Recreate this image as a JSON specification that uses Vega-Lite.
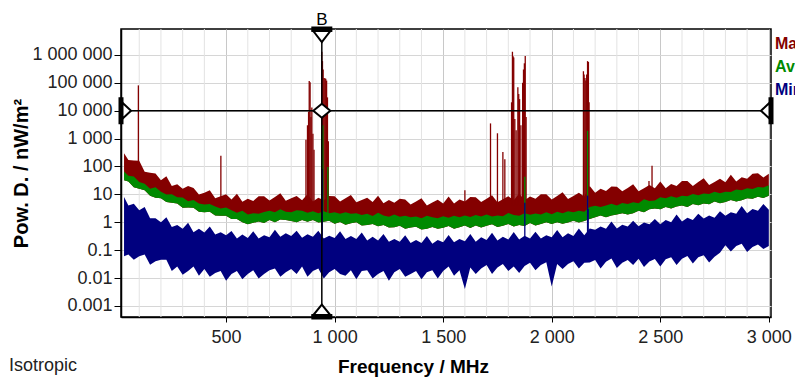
{
"$schema": "https://vega.github.io/schema/vega-lite/v6.json",
"width": 650, "height": 288,
"autosize": {"type": "none"},
"padding": {"left": 121, "top": 29, "right": 24, "bottom": 61},
"background": "white",
"title": {"text": "Isotropic", "orient": "bottom", "anchor": "start", "frame": "bounds", "offset": -19, "fontSize": 18, "fontWeight": "normal", "font": "Liberation Sans", "color": "#222", "dx": -3},
"config": {
  "locale": {"number": {"decimal": ".", "thousands": " ", "grouping": [3], "currency": ["", ""]}},
  "view": {"stroke": "black", "strokeWidth": 1.5},
  "font": "Liberation Sans",
  "axis": {"labelFont": "Liberation Sans", "labelFontSize": 18, "labelColor": "#222", "titleFont": "Liberation Sans", "titleFontSize": 19, "titleFontWeight": "bold", "titleColor": "black", "domainColor": "black", "domainWidth": 1.5, "tickColor": "black", "gridColor": "#d9d9d9", "gridWidth": 1, "labelFlush": false, "labelOverlap": false},
  "axisX": {"tickSize": 5, "labelPadding": 6, "titlePadding": 11, "gridColor": "#c8c8c8"},
  "axisY": {"tickSize": 7, "labelPadding": 2, "titlePadding": 0, "titleFontSize": 20, "gridColor": "#d6d6d6"}
},
"datasets": {
"minorgrid": [
{"g":100},{"g":200},{"g":300},{"g":400},{"g":600},{"g":700},{"g":800},{"g":900},
{"g":1100},{"g":1200},{"g":1300},{"g":1400},{"g":1600},{"g":1700},{"g":1800},{"g":1900},
{"g":2100},{"g":2200},{"g":2300},{"g":2400},{"g":2600},{"g":2700},{"g":2800},{"g":2900}
],
"bands": [
{"f":30,"r":300,"gh":66,"gl":32,"bh":8,"bl":0.06},
{"f":50,"r":170,"gh":46,"gl":29,"bh":4,"bl":0.07},
{"f":75,"r":165,"gh":44,"gl":18,"bh":4.6,"bl":0.045},
{"f":100,"r":160,"gh":28,"gl":16,"bh":2.7,"bl":0.06},
{"f":125,"r":64,"gh":24,"gl":14,"bh":3.5,"bl":0.07},
{"f":150,"r":60,"gh":16,"gl":9,"bh":1.4,"bl":0.03},
{"f":175,"r":56,"gh":18,"gl":7.6,"bh":1.4,"bl":0.04},
{"f":200,"r":32,"gh":12.5,"gl":7.3,"bh":1.0,"bl":0.045},
{"f":225,"r":45,"gh":9.8,"gl":5.3,"bh":1.5,"bl":0.045},
{"f":250,"r":20,"gh":10,"gl":5,"bh":0.68,"bl":0.018},
{"f":275,"r":23,"gh":7.8,"gl":4.7,"bh":0.8,"bl":0.026},
{"f":300,"r":16,"gh":7.7,"gl":3.3,"bh":0.58,"bl":0.013},
{"f":325,"r":20,"gh":5.7,"gl":3.4,"bh":0.96,"bl":0.018},
{"f":350,"r":17,"gh":6.3,"gl":3.3,"bh":0.44,"bl":0.026},
{"f":375,"r":9.8,"gh":4.7,"gl":2.4,"bh":0.58,"bl":0.012},
{"f":400,"r":11.5,"gh":4.3,"gl":2.3,"bh":0.43,"bl":0.021},
{"f":425,"r":14,"gh":4.5,"gl":2.4,"bh":0.7,"bl":0.011},
{"f":450,"r":7.2,"gh":3.7,"gl":1.75,"bh":0.36,"bl":0.015},
{"f":475,"r":8.5,"gh":3.1,"gl":1.7,"bh":0.44,"bl":0.018},
{"f":500,"r":10,"gh":3.4,"gl":1.7,"bh":0.34,"bl":0.008},
{"f":525,"r":6.6,"gh":2.7,"gl":1.3,"bh":0.49,"bl":0.014},
{"f":550,"r":10.5,"gh":2.2,"gl":1.3,"bh":0.26,"bl":0.018},
{"f":575,"r":5.4,"gh":2.6,"gl":1.0,"bh":0.36,"bl":0.009},
{"f":600,"r":6.9,"gh":1.9,"gl":0.84,"bh":0.27,"bl":0.014},
{"f":625,"r":5.8,"gh":2.1,"gl":0.95,"bh":0.48,"bl":0.019},
{"f":650,"r":8.5,"gh":2.0,"gl":1.07,"bh":0.26,"bl":0.0096},
{"f":675,"r":8.6,"gh":2.35,"gl":0.93,"bh":0.34,"bl":0.014},
{"f":700,"r":6,"gh":2.6,"gl":1.2,"bh":0.29,"bl":0.019},
{"f":725,"r":8,"gh":2.3,"gl":1.0,"bh":0.54,"bl":0.022},
{"f":750,"r":10.9,"gh":2.9,"gl":1.26,"bh":0.3,"bl":0.011},
{"f":775,"r":5.9,"gh":2.4,"gl":1.2,"bh":0.4,"bl":0.016},
{"f":800,"r":7.2,"gh":2.3,"gl":1.1,"bh":0.32,"bl":0.021},
{"f":825,"r":8.8,"gh":2.7,"gl":1.0,"bh":0.5,"bl":0.014},
{"f":850,"r":6.1,"gh":2.6,"gl":1.2,"bh":0.28,"bl":0.026},
{"f":875,"r":10,"gh":2.2,"gl":1.05,"bh":0.37,"bl":0.011},
{"f":900,"r":5.5,"gh":2.5,"gl":1.2,"bh":0.3,"bl":0.018},
{"f":925,"r":7.5,"gh":2.1,"gl":0.97,"bh":0.5,"bl":0.022},
{"f":950,"r":6.2,"gh":2.5,"gl":1.04,"bh":0.26,"bl":0.0096},
{"f":975,"r":8.8,"gh":2.1,"gl":1.13,"bh":0.33,"bl":0.016},
{"f":1000,"r":8.5,"gh":2.3,"gl":0.88,"bh":0.27,"bl":0.021},
{"f":1025,"r":5.5,"gh":2.0,"gl":1.03,"bh":0.48,"bl":0.014},
{"f":1050,"r":7.2,"gh":2.3,"gl":0.82,"bh":0.25,"bl":0.012},
{"f":1075,"r":9.4,"gh":2.0,"gl":0.92,"bh":0.32,"bl":0.019},
{"f":1100,"r":5.2,"gh":2.1,"gl":0.99,"bh":0.25,"bl":0.009},
{"f":1125,"r":6.3,"gh":1.8,"gl":0.77,"bh":0.43,"bl":0.018},
{"f":1150,"r":7.6,"gh":2.0,"gl":0.8,"bh":0.22,"bl":0.019},
{"f":1175,"r":5.3,"gh":1.66,"gl":0.87,"bh":0.3,"bl":0.0096},
{"f":1200,"r":9,"gh":2.2,"gl":0.72,"bh":0.22,"bl":0.014},
{"f":1225,"r":4.8,"gh":1.75,"gl":0.8,"bh":0.38,"bl":0.018},
{"f":1250,"r":6.3,"gh":1.56,"gl":0.65,"bh":0.2,"bl":0.008},
{"f":1275,"r":5,"gh":1.9,"gl":0.66,"bh":0.25,"bl":0.016},
{"f":1300,"r":7,"gh":1.58,"gl":0.75,"bh":0.2,"bl":0.021},
{"f":1325,"r":6.6,"gh":1.7,"gl":0.58,"bh":0.34,"bl":0.011},
{"f":1350,"r":4.3,"gh":1.5,"gl":0.65,"bh":0.18,"bl":0.014},
{"f":1375,"r":5.5,"gh":1.6,"gl":0.69,"bh":0.23,"bl":0.018},
{"f":1400,"r":7.2,"gh":1.4,"gl":0.55,"bh":0.18,"bl":0.009},
{"f":1425,"r":4,"gh":1.7,"gl":0.59,"bh":0.32,"bl":0.016},
{"f":1450,"r":5.1,"gh":1.5,"gl":0.68,"bh":0.17,"bl":0.019},
{"f":1475,"r":6.4,"gh":1.4,"gl":0.58,"bh":0.23,"bl":0.0096},
{"f":1500,"r":4.7,"gh":1.65,"gl":0.64,"bh":0.19,"bl":0.018},
{"f":1525,"r":8.4,"gh":1.45,"gl":0.73,"bh":0.35,"bl":0.026},
{"f":1550,"r":4.7,"gh":1.7,"gl":0.59,"bh":0.19,"bl":0.012},
{"f":1575,"r":6.6,"gh":1.5,"gl":0.66,"bh":0.25,"bl":0.019},
{"f":1600,"r":5.5,"gh":1.75,"gl":0.77,"bh":0.21,"bl":0.004},
{"f":1625,"r":8,"gh":1.55,"gl":0.62,"bh":0.38,"bl":0.024},
{"f":1650,"r":7.8,"gh":1.8,"gl":0.76,"bh":0.2,"bl":0.014},
{"f":1675,"r":5.3,"gh":1.6,"gl":0.65,"bh":0.29,"bl":0.022},
{"f":1700,"r":6.9,"gh":1.9,"gl":0.75,"bh":0.23,"bl":0.029},
{"f":1725,"r":9.3,"gh":1.6,"gl":0.84,"bh":0.42,"bl":0.014},
{"f":1750,"r":5.2,"gh":1.75,"gl":0.68,"bh":0.22,"bl":0.024},
{"f":1775,"r":6.7,"gh":1.65,"gl":0.75,"bh":0.3,"bl":0.032},
{"f":1800,"r":8.5,"gh":2.15,"gl":0.86,"bh":0.24,"bl":0.018},
{"f":1825,"r":6.2,"gh":1.83,"gl":0.71,"bh":0.45,"bl":0.026},
{"f":1850,"r":10.8,"gh":1.7,"gl":0.8,"bh":0.24,"bl":0.015},
{"f":1875,"r":6.1,"gh":2.1,"gl":0.74,"bh":0.33,"bl":0.027},
{"f":1900,"r":8.4,"gh":1.85,"gl":0.94,"bh":0.26,"bl":0.035},
{"f":1925,"r":7,"gh":2.05,"gl":0.77,"bh":0.46,"bl":0.019},
{"f":1950,"r":10.1,"gh":1.9,"gl":0.86,"bh":0.26,"bl":0.029},
{"f":1975,"r":10,"gh":2.3,"gl":0.99,"bh":0.34,"bl":0.037},
{"f":2000,"r":6.6,"gh":1.95,"gl":0.87,"bh":0.29,"bl":0.005},
{"f":2025,"r":8.8,"gh":2.4,"gl":1.0,"bh":0.53,"bl":0.032},
{"f":2050,"r":11.9,"gh":2.1,"gl":0.88,"bh":0.29,"bl":0.021},
{"f":2075,"r":6.8,"gh":2.5,"gl":0.97,"bh":0.4,"bl":0.032},
{"f":2100,"r":8.8,"gh":2.3,"gl":1.13,"bh":0.32,"bl":0.04},
{"f":2125,"r":11.3,"gh":2.6,"gl":0.97,"bh":0.6,"bl":0.022},
{"f":2150,"r":8.3,"gh":2.4,"gl":1.1,"bh":0.34,"bl":0.035},
{"f":2175,"r":20,"gh":3.5,"gl":1.3,"bh":0.6,"bl":0.036},
{"f":2200,"r":11.5,"gh":3.9,"gl":1.5,"bh":0.54,"bl":0.044},
{"f":2225,"r":15.9,"gh":3.5,"gl":1.76,"bh":0.71,"bl":0.022},
{"f":2250,"r":13.3,"gh":4.0,"gl":1.5,"bh":0.58,"bl":0.038},
{"f":2275,"r":19.3,"gh":4.6,"gl":1.73,"bh":1.07,"bl":0.05},
{"f":2300,"r":18.9,"gh":4.0,"gl":1.9,"bh":0.6,"bl":0.023},
{"f":2325,"r":12.8,"gh":4.9,"gl":2.1,"bh":0.81,"bl":0.035},
{"f":2350,"r":16.8,"gh":4.5,"gl":1.9,"bh":0.7,"bl":0.044},
{"f":2375,"r":22.8,"gh":5.2,"gl":2.1,"bh":1.13,"bl":0.029},
{"f":2400,"r":12.8,"gh":4.8,"gl":2.6,"bh":0.72,"bl":0.049},
{"f":2425,"r":16.7,"gh":6.7,"gl":2.3,"bh":0.97,"bl":0.025},
{"f":2450,"r":21.6,"gh":5.8,"gl":2.9,"bh":0.85,"bl":0.039},
{"f":2475,"r":16.7,"gh":6.0,"gl":3.1,"bh":1.3,"bl":0.048},
{"f":2500,"r":29,"gh":7.8,"gl":2.9,"bh":0.85,"bl":0.026},
{"f":2525,"r":16.7,"gh":7.2,"gl":3.5,"bh":1.2,"bl":0.047},
{"f":2550,"r":23.6,"gh":8.6,"gl":3.1,"bh":1.0,"bl":0.056},
{"f":2575,"r":20,"gh":7.5,"gl":3.7,"bh":1.9,"bl":0.029},
{"f":2600,"r":30,"gh":9.0,"gl":4.0,"bh":1.06,"bl":0.049},
{"f":2625,"r":30,"gh":8.5,"gl":3.5,"bh":1.45,"bl":0.062},
{"f":2650,"r":20,"gh":10.3,"gl":4.5,"bh":1.2,"bl":0.033},
{"f":2675,"r":27.5,"gh":9.3,"gl":4.1,"bh":2.0,"bl":0.056},
{"f":2700,"r":38,"gh":10.8,"gl":4.7,"bh":1.35,"bl":0.065},
{"f":2725,"r":21.6,"gh":10.2,"gl":4.4,"bh":1.75,"bl":0.036},
{"f":2750,"r":28,"gh":12.3,"gl":5.5,"bh":1.45,"bl":0.058},
{"f":2775,"r":36,"gh":11,"gl":4.8,"bh":2.5,"bl":0.08},
{"f":2800,"r":27,"gh":12.5,"gl":5.3,"bh":1.7,"bl":0.15},
{"f":2825,"r":50,"gh":12.2,"gl":6.3,"bh":2.3,"bl":0.09},
{"f":2850,"r":29,"gh":15,"gl":5.6,"bh":2.0,"bl":0.14},
{"f":2875,"r":41,"gh":14,"gl":6.1,"bh":3.8,"bl":0.17},
{"f":2900,"r":36,"gh":16.5,"gl":7.3,"bh":2.1,"bl":0.085},
{"f":2925,"r":55,"gh":15.5,"gl":6.9,"bh":3.0,"bl":0.13},
{"f":2950,"r":57,"gh":18.5,"gl":8.2,"bh":2.6,"bl":0.16},
{"f":2975,"r":40,"gh":17.5,"gl":7.4,"bh":4.5,"bl":0.11},
{"f":3000,"r":55,"gh":21,"gl":9,"bh":2.8,"bl":0.14}
],
"spikes": [
{"s":"Max","f":96,"lo":50,"hi":81000},
{"s":"Max","f":476,"lo":5,"hi":240},
{"s":"Max","f":868,"lo":4,"hi":900},
{"s":"Max","f":875,"lo":4,"hi":3000},
{"s":"Max","f":880,"lo":4,"hi":9000},
{"s":"Max","f":883,"lo":4,"hi":115000},
{"s":"Max","f":887,"lo":4,"hi":105000},
{"s":"Max","f":891,"lo":4,"hi":6000},
{"s":"Max","f":895,"lo":4,"hi":13000},
{"s":"Max","f":900,"lo":4,"hi":1500},
{"s":"Max","f":905,"lo":4,"hi":400},
{"s":"Max","f":941,"lo":4,"hi":1300000},
{"s":"Max","f":944,"lo":4,"hi":600000},
{"s":"Max","f":947,"lo":4,"hi":300000},
{"s":"Max","f":951,"lo":4,"hi":150000},
{"s":"Max","f":955,"lo":4,"hi":145000},
{"s":"Max","f":959,"lo":4,"hi":140000},
{"s":"Max","f":963,"lo":4,"hi":120000},
{"s":"Max","f":967,"lo":4,"hi":30000},
{"s":"Max","f":971,"lo":4,"hi":800},
{"s":"Max","f":1600,"lo":4,"hi":14},
{"s":"Max","f":1718,"lo":4,"hi":3500},
{"s":"Max","f":1750,"lo":4,"hi":1550},
{"s":"Max","f":1775,"lo":4,"hi":330},
{"s":"Max","f":1784,"lo":4,"hi":180},
{"s":"Max","f":1815,"lo":4,"hi":20000},
{"s":"Max","f":1819,"lo":4,"hi":1300000},
{"s":"Max","f":1822,"lo":4,"hi":900000},
{"s":"Max","f":1825,"lo":4,"hi":800000},
{"s":"Max","f":1830,"lo":4,"hi":5000},
{"s":"Max","f":1836,"lo":4,"hi":2000},
{"s":"Max","f":1844,"lo":4,"hi":69000},
{"s":"Max","f":1848,"lo":4,"hi":40000},
{"s":"Max","f":1852,"lo":4,"hi":26000},
{"s":"Max","f":1858,"lo":4,"hi":3000},
{"s":"Max","f":1866,"lo":4,"hi":100000},
{"s":"Max","f":1870,"lo":4,"hi":300000},
{"s":"Max","f":1874,"lo":4,"hi":500000},
{"s":"Max","f":1878,"lo":4,"hi":910000},
{"s":"Max","f":1882,"lo":4,"hi":6000},
{"s":"Max","f":2146,"lo":4,"hi":260000},
{"s":"Max","f":2149,"lo":4,"hi":200000},
{"s":"Max","f":2153,"lo":4,"hi":150000},
{"s":"Max","f":2157,"lo":4,"hi":120000},
{"s":"Max","f":2161,"lo":4,"hi":200000},
{"s":"Max","f":2165,"lo":4,"hi":600000},
{"s":"Max","f":2169,"lo":4,"hi":560000},
{"s":"Max","f":2172,"lo":4,"hi":20000},
{"s":"Max","f":2448,"lo":10,"hi":30},
{"s":"Max","f":2462,"lo":10,"hi":106},
{"s":"Avg","f":941,"lo":2,"hi":1500},
{"s":"Avg","f":946,"lo":2,"hi":3000},
{"s":"Avg","f":969,"lo":2,"hi":95},
{"s":"Avg","f":1876,"lo":1.5,"hi":43},
{"s":"Avg","f":2165,"lo":2.5,"hi":1900},
{"s":"Min","f":943,"lo":0.3,"hi":80},
{"s":"Min","f":1876,"lo":0.3,"hi":5},
{"s":"Min","f":2165,"lo":0.3,"hi":9},
{"s":"Min","f":2168,"lo":0.3,"hi":3}
],
"markers": [
{"k":"topBar","f":941,"v":8500000},
{"k":"topTri","f":941,"v":8500000},
{"k":"botBar","f":941,"v":0.0004},
{"k":"botTri","f":941,"v":0.0004},
{"k":"leftBar","f":16,"v":10000},
{"k":"leftTri","f":16,"v":10000},
{"k":"rightBar","f":3010,"v":10000},
{"k":"rightTri","f":3010,"v":10000},
{"k":"diamond","f":941,"v":10000}
]
},
"layer": [
{
 "data": {"name": "minorgrid"},
 "mark": {"type": "rule", "color": "#e3e3e3", "strokeWidth": 1},
 "encoding": {
  "x": {"field": "g", "type": "quantitative", "scale": {"type": "linear", "domain": [16, 3010], "nice": false, "zero": false}}
 }
},
{
 "data": {"name": "bands"},
 "mark": {"type": "area", "orient": "vertical", "clip": true},
 "encoding": {
  "x": {"field": "f", "type": "quantitative", "scale": {"type": "linear", "domain": [16, 3010], "nice": false, "zero": false},
        "axis": {"values": [500,1000,1500,2000,2500,3000], "labelExpr": "format(datum.value, ',')", "labelOverlap": false, "labelFlush": false,
                 "title": "Frequency / MHz", "titleX": 292}},
  "y": {"field": "gl", "type": "quantitative", "scale": {"type": "log", "domain": [0.0004, 8500000], "nice": false},
        "axis": {"values": [0.001,0.01,0.1,1,10,100,1000,10000,100000,1000000], "format": ",", "labelOverlap": false, "labelFlush": false, "title": "Pow. D. / nW/m²"}},
  "y2": {"field": "r"},
  "color": {"datum": "Max", "type": "nominal", "scale": {"domain": ["Max","Avg","Min"], "range": ["#840000","#008a00","#00007f"]},
            "legend": {"title": null, "orient": "none", "direction": "vertical", "legendX": 638, "legendY": 7, "padding": 0, "symbolSize": 1, "symbolStrokeWidth": 0, "symbolOpacity": 0,
                       "labelOffset": 0, "labelFontSize": 16, "labelFontWeight": "bold", "labelFont": "Liberation Sans", "rowPadding": 7,
                       "encode": {"labels": {"update": {"fill": {"scale": "color", "field": "value"}}}}}}
 }
},
{
 "data": {"name": "spikes"},
 "transform": [{"filter": "datum.s === 'Max'"}],
 "mark": {"type": "rule", "color": "#840000", "strokeWidth": 1.3, "clip": true},
 "encoding": {
  "x": {"field": "f", "type": "quantitative", "scale": {"type": "linear", "domain": [16, 3010], "nice": false, "zero": false}},
  "y": {"field": "lo", "type": "quantitative", "scale": {"type": "log", "domain": [0.0004, 8500000], "nice": false}},
  "y2": {"field": "hi"}
 }
},
{
 "data": {"name": "bands"},
 "mark": {"type": "area", "orient": "vertical", "clip": true},
 "encoding": {
  "x": {"field": "f", "type": "quantitative", "scale": {"type": "linear", "domain": [16, 3010], "nice": false, "zero": false}},
  "y": {"field": "gl", "type": "quantitative", "scale": {"type": "log", "domain": [0.0004, 8500000], "nice": false}},
  "y2": {"field": "gh"},
  "color": {"datum": "Avg", "type": "nominal", "scale": {"domain": ["Max","Avg","Min"], "range": ["#840000","#008a00","#00007f"]}}
 }
},
{
 "data": {"name": "spikes"},
 "transform": [{"filter": "datum.s === 'Avg'"}],
 "mark": {"type": "rule", "color": "#008a00", "strokeWidth": 1.3, "clip": true},
 "encoding": {
  "x": {"field": "f", "type": "quantitative", "scale": {"type": "linear", "domain": [16, 3010], "nice": false, "zero": false}},
  "y": {"field": "lo", "type": "quantitative", "scale": {"type": "log", "domain": [0.0004, 8500000], "nice": false}},
  "y2": {"field": "hi"}
 }
},
{
 "data": {"name": "bands"},
 "mark": {"type": "area", "orient": "vertical", "clip": true},
 "encoding": {
  "x": {"field": "f", "type": "quantitative", "scale": {"type": "linear", "domain": [16, 3010], "nice": false, "zero": false}},
  "y": {"field": "bl", "type": "quantitative", "scale": {"type": "log", "domain": [0.0004, 8500000], "nice": false}},
  "y2": {"field": "bh"},
  "color": {"datum": "Min", "type": "nominal", "scale": {"domain": ["Max","Avg","Min"], "range": ["#840000","#008a00","#00007f"]}}
 }
},
{
 "data": {"name": "spikes"},
 "transform": [{"filter": "datum.s === 'Min'"}],
 "mark": {"type": "rule", "color": "#00007f", "strokeWidth": 1.3, "clip": true},
 "encoding": {
  "x": {"field": "f", "type": "quantitative", "scale": {"type": "linear", "domain": [16, 3010], "nice": false, "zero": false}},
  "y": {"field": "lo", "type": "quantitative", "scale": {"type": "log", "domain": [0.0004, 8500000], "nice": false}},
  "y2": {"field": "hi"}
 }
},
{
 "data": {"values": [{"v": 10000}]},
 "mark": {"type": "rule", "color": "black", "strokeWidth": 1.5},
 "encoding": {
  "y": {"field": "v", "type": "quantitative", "scale": {"type": "log", "domain": [0.0004, 8500000], "nice": false}}
 }
},
{
 "data": {"values": [{"f": 941}]},
 "mark": {"type": "rule", "color": "black", "strokeWidth": 1.5},
 "encoding": {
  "x": {"field": "f", "type": "quantitative", "scale": {"type": "linear", "domain": [16, 3010], "nice": false, "zero": false}}
 }
},
{
 "data": {"name": "markers"},
 "mark": {"type": "point", "filled": true, "size": 400, "stroke": "black", "strokeWidth": 2, "opacity": 1},
 "encoding": {
  "x": {"field": "f", "type": "quantitative", "scale": {"type": "linear", "domain": [16, 3010], "nice": false, "zero": false}},
  "y": {"field": "v", "type": "quantitative", "scale": {"type": "log", "domain": [0.0004, 8500000], "nice": false}},
  "shape": {"field": "k", "type": "nominal", "legend": null,
            "scale": {"domain": ["topBar","topTri","botBar","botTri","leftBar","leftTri","rightBar","rightTri","diamond"],
                      "range": ["M-0.95,-0.15H0.95V0.2H-0.95Z","M-0.85,0.2L0.85,0.2L0,1.3Z","M-0.95,0.15H0.95V-0.2H-0.95Z","M-0.85,-0.2L0.85,-0.2L0,-1.25Z","M-0.15,-1.25H0.15V1.25H-0.15Z","M0.15,-0.8L1.0,0L0.15,0.8Z","M0.15,-1.25H-0.15V1.25H0.15Z","M-0.15,-0.8L-1.0,0L-0.15,0.8Z","M-0.85,0L0,-0.7L0.85,0L0,0.7Z"]}},
  "fill": {"condition": {"test": "indexof(datum.k, 'Bar') >= 0", "value": "black"}, "value": "white"}
 }
},
{
 "data": {"values": [{"f": 941, "v": 8500000, "t": "B"}]},
 "mark": {"type": "text", "dy": -4, "baseline": "alphabetic", "fontSize": 17, "font": "Liberation Sans", "color": "black"},
 "encoding": {
  "x": {"field": "f", "type": "quantitative", "scale": {"type": "linear", "domain": [16, 3010], "nice": false, "zero": false}},
  "y": {"field": "v", "type": "quantitative", "scale": {"type": "log", "domain": [0.0004, 8500000], "nice": false}},
  "text": {"field": "t"}
 }
}
]
}
